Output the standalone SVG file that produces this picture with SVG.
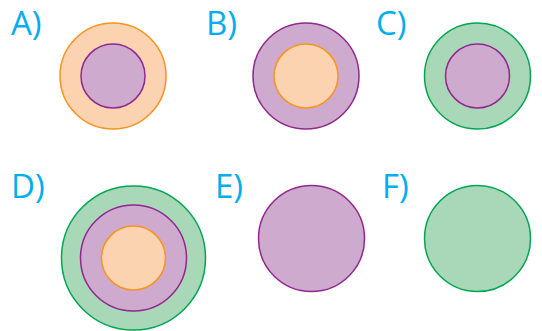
<svg xmlns="http://www.w3.org/2000/svg" width="542" height="331" viewBox="0 0 542 331">
<style>
.lbl{font-family:"Open Sans","Liberation Sans",sans-serif;font-size:33px;font-weight:400;fill:#00AEEF}
.o{fill:#FBD3B0;stroke:#F7941D;stroke-width:1.5}
.p{fill:#CEABCE;stroke:#92278F;stroke-width:1.5}
.g{fill:#A8D8B8;stroke:#00A651;stroke-width:1.5}
</style>
<rect width="542" height="331" fill="#fff"/>
<g id="A">
<text class="lbl" x="11" y="35">A)</text>
<circle class="o" cx="113" cy="76" r="53"/>
<circle class="p" cx="113" cy="76" r="32"/>
</g>
<g id="B">
<text class="lbl" x="206" y="35">B)</text>
<circle class="p" cx="306" cy="76" r="53"/>
<circle class="o" cx="306" cy="76" r="32"/>
</g>
<g id="C">
<text class="lbl" x="376" y="35">C)</text>
<circle class="g" cx="477.5" cy="76" r="53"/>
<circle class="p" cx="477.5" cy="76" r="32"/>
</g>
<g id="D">
<text class="lbl" x="11" y="198">D)</text>
<circle class="g" cx="133.5" cy="258" r="72"/>
<circle class="p" cx="133.5" cy="258" r="53"/>
<circle class="o" cx="133.5" cy="258" r="32"/>
</g>
<g id="E">
<text class="lbl" x="215" y="198">E)</text>
<circle class="p" cx="311.5" cy="238.5" r="53"/>
</g>
<g id="F">
<text class="lbl" x="382" y="198">F)</text>
<circle class="g" cx="477.5" cy="238.5" r="53"/>
</g>
</svg>
